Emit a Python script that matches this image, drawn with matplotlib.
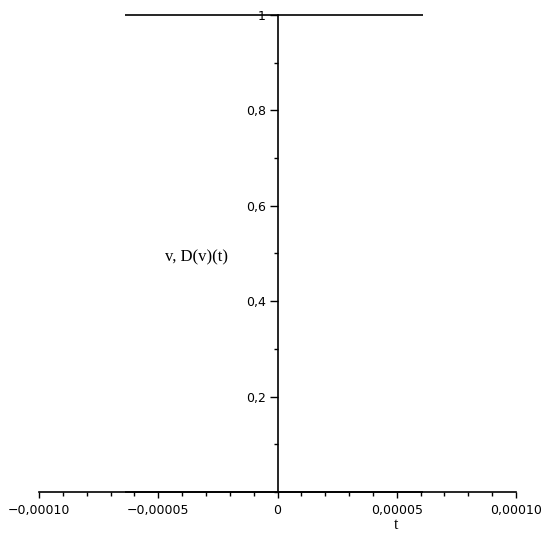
import matplotlib
matplotlib.use("Agg")
import matplotlib.pyplot as plt
from matplotlib.ticker import FixedLocator, MultipleLocator

# data
t_range = [-0.000064, 0.000061]
v_vals = [1.0, 1.0]
dv_vals = [0.0, 0.0]
x_ticks = [-0.0001, -0.00005, 0.0, 0.00005, 0.0001]
x_labels = ["\u22120,00010", "\u22120,00005", "0", "0,00005", "0,00010"]
y_ticks = [0.2, 0.4, 0.6, 0.8, 1.0]
y_labels = ["0,2", "0,4", "0,6", "0,8", "1"]

W, H = 542, 540
fig = plt.figure(figsize=(W / 100, H / 100), dpi=100)
ax = fig.add_axes([39 / W, (H - 492) / H, (516 - 39) / W, (492 - 15) / H])
ax.set_xlim(-0.0001, 0.0001)
ax.set_ylim(0, 1)

ax.plot(t_range, v_vals, color="black", lw=1.2, solid_capstyle="butt", clip_on=False)
ax.plot(t_range, dv_vals, color="black", lw=1.2, solid_capstyle="butt", clip_on=False)

for s in ["top", "right"]:
    ax.spines[s].set_visible(False)
ax.spines["left"].set_position(("data", 0))
ax.spines["bottom"].set_position(("data", 0))
for s in ["left", "bottom"]:
    ax.spines[s].set_linewidth(1.2)

ax.xaxis.set_major_locator(FixedLocator(x_ticks))
ax.set_xticklabels(x_labels)
ax.xaxis.set_minor_locator(MultipleLocator(0.00001))
ax.yaxis.set_major_locator(FixedLocator(y_ticks))
ax.set_yticklabels(y_labels)
ax.yaxis.set_minor_locator(MultipleLocator(0.1))

ax.tick_params(axis="x", which="major", direction="out", length=4.5, width=1, pad=4, labelsize=9)
ax.tick_params(axis="x", which="minor", direction="out", length=3, width=1)
ax.tick_params(axis="y", which="major", direction="out", length=5.5, width=1, pad=3, labelsize=9)
ax.tick_params(axis="y", which="minor", direction="out", length=3, width=1)

fig.text(396 / W, 1 - 525 / H, "t", ha="center", va="center",
         family="Liberation Serif", fontsize=11.5)
fig.text(196.5 / W, 1 - 257 / H, "v, D(v)(t)", ha="center", va="center",
         family="Liberation Serif", fontsize=12)

fig.savefig("out.png", dpi=100)
